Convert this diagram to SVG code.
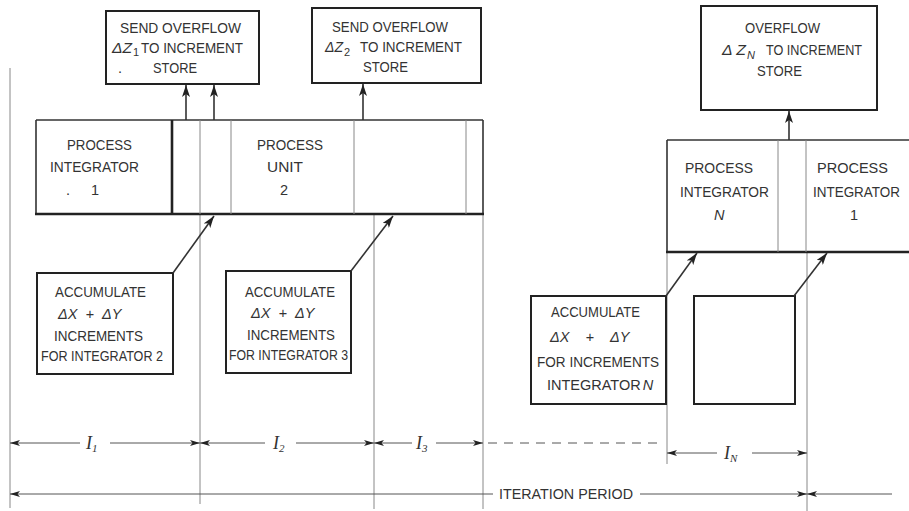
<svg xmlns="http://www.w3.org/2000/svg" width="909" height="511" viewBox="0 0 909 511">
<defs>
<style>
.bx{fill:none;stroke:#222;stroke-width:2}
.thin{fill:none;stroke:#888;stroke-width:1}
.ln{fill:none;stroke:#333;stroke-width:1.6}
.dim{fill:none;stroke:#555;stroke-width:1}
.t{font-family:"Liberation Sans",Arial,sans-serif;font-size:14.5px;fill:#333}
.it{font-style:italic}
.i{font-family:"Liberation Serif","Times New Roman",serif;font-style:italic;font-size:18px;fill:#333}
.s{font-size:11px}
</style>
<marker id="ah" markerUnits="userSpaceOnUse" markerWidth="13" markerHeight="8" refX="12" refY="4" orient="auto">
<path d="M0,0 L12,4 L0,8 L3,4 z" fill="#222"/>
</marker>
<marker id="dh" markerUnits="userSpaceOnUse" markerWidth="11" markerHeight="6" refX="10" refY="3" orient="auto">
<path d="M0,0 L10,3 L0,6 L2.5,3 z" fill="#222"/>
</marker>
</defs>

<g id="guides">
<line class="thin" x1="10" y1="68" x2="10" y2="508"/>
<line class="thin" x1="200" y1="215" x2="200" y2="504"/>
<line class="thin" x1="374" y1="215" x2="374" y2="509"/>
<line class="thin" x1="483" y1="215" x2="483" y2="509"/>
<line class="thin" x1="667" y1="252" x2="667" y2="464"/>
<line class="thin" x1="807" y1="252" x2="807" y2="511"/>
</g>

<g id="store1">
<rect class="bx" x="106" y="11" width="153" height="73"/>
<text class="t" x="120" y="33" textLength="121" lengthAdjust="spacingAndGlyphs">SEND OVERFLOW</text>
<text class="t it" x="112" y="53" textLength="20" lengthAdjust="spacingAndGlyphs">ΔZ</text>
<text class="t s" x="133" y="56">1</text>
<text class="t" x="141" y="53" textLength="102" lengthAdjust="spacingAndGlyphs">TO INCREMENT</text>
<text class="t" x="118" y="73">.</text>
<text class="t" x="153" y="73" textLength="44" lengthAdjust="spacingAndGlyphs">STORE</text>
</g>

<g id="store2">
<rect class="bx" x="312" y="8" width="169" height="75"/>
<text class="t" x="332" y="32" textLength="116" lengthAdjust="spacingAndGlyphs">SEND OVERFLOW</text>
<text class="t it" x="325" y="52" textLength="18" lengthAdjust="spacingAndGlyphs">ΔZ</text>
<text class="t s" x="344" y="56">2</text>
<text class="t" x="360" y="52" textLength="102" lengthAdjust="spacingAndGlyphs">TO INCREMENT</text>
<text class="t" x="363" y="72" textLength="45" lengthAdjust="spacingAndGlyphs">STORE</text>
</g>

<g id="storeN">
<rect class="bx" x="701" y="6" width="176" height="104"/>
<text class="t" x="745" y="33" textLength="75" lengthAdjust="spacingAndGlyphs">OVERFLOW</text>
<text class="t it" x="722" y="55" textLength="24" lengthAdjust="spacingAndGlyphs">Δ Z</text>
<text class="t s it" x="747" y="59">N</text>
<text class="t" x="766" y="55" textLength="96" lengthAdjust="spacingAndGlyphs">TO INCREMENT</text>
<text class="t" x="757" y="76" textLength="45" lengthAdjust="spacingAndGlyphs">STORE</text>
</g>

<g id="unit">
<line class="ln" x1="36" y1="120" x2="483" y2="120"/>
<line class="ln" x1="36" y1="120" x2="36" y2="214"/>
<line class="ln" x1="483" y1="120" x2="483" y2="214"/>
<line x1="35" y1="214" x2="484" y2="214" stroke="#222" stroke-width="2.6"/>
<line x1="172" y1="120" x2="172" y2="214" stroke="#222" stroke-width="2.6"/>
<line class="thin" x1="200" y1="120" x2="200" y2="214"/>
<line class="thin" x1="231" y1="120" x2="231" y2="214"/>
<line class="thin" x1="354" y1="120" x2="354" y2="214"/>
<line class="thin" x1="466" y1="120" x2="466" y2="214"/>
<text class="t" x="67" y="150" textLength="65" lengthAdjust="spacingAndGlyphs">PROCESS</text>
<text class="t" x="50" y="172" textLength="89" lengthAdjust="spacingAndGlyphs">INTEGRATOR</text>
<text class="t" x="66" y="195">.</text>
<text class="t" x="91" y="195">1</text>
<text class="t" x="257" y="150" textLength="66" lengthAdjust="spacingAndGlyphs">PROCESS</text>
<text class="t" x="267" y="172" textLength="36" lengthAdjust="spacingAndGlyphs">UNIT</text>
<text class="t" x="280" y="195">2</text>
</g>

<g id="unitN">
<line class="ln" x1="667" y1="140" x2="909" y2="140"/>
<line class="ln" x1="667" y1="140" x2="667" y2="252"/>
<line x1="666" y1="252" x2="909" y2="252" stroke="#222" stroke-width="2.6"/>
<line class="thin" x1="778" y1="140" x2="778" y2="252"/>
<line class="thin" x1="806" y1="140" x2="806" y2="252"/>
<text class="t" x="685" y="173" textLength="68" lengthAdjust="spacingAndGlyphs">PROCESS</text>
<text class="t" x="680" y="197" textLength="89" lengthAdjust="spacingAndGlyphs">INTEGRATOR</text>
<text class="t it" x="714" y="220">N</text>
<text class="t" x="817" y="173" textLength="71" lengthAdjust="spacingAndGlyphs">PROCESS</text>
<text class="t" x="813" y="197" textLength="87" lengthAdjust="spacingAndGlyphs">INTEGRATOR</text>
<text class="t" x="850" y="220">1</text>
</g>

<g id="acc2">
<rect class="bx" x="37" y="273" width="136" height="101"/>
<text class="t" x="55" y="297" textLength="91" lengthAdjust="spacingAndGlyphs">ACCUMULATE</text>
<text class="t it" x="58" y="319" xml:space="preserve">ΔX  +  ΔY</text>
<text class="t" x="54" y="341" textLength="89" lengthAdjust="spacingAndGlyphs">INCREMENTS</text>
<text class="t" x="41" y="361" textLength="122" lengthAdjust="spacingAndGlyphs">FOR INTEGRATOR 2</text>
</g>

<g id="acc3">
<rect class="bx" x="226" y="271" width="125" height="102"/>
<text class="t" x="245" y="297" textLength="90" lengthAdjust="spacingAndGlyphs">ACCUMULATE</text>
<text class="t it" x="251" y="318" xml:space="preserve">ΔX  +  ΔY</text>
<text class="t" x="247" y="340" textLength="88" lengthAdjust="spacingAndGlyphs">INCREMENTS</text>
<text class="t" x="229" y="360" textLength="119" lengthAdjust="spacingAndGlyphs">FOR INTEGRATOR 3</text>
</g>

<g id="accN">
<rect class="bx" x="531" y="296" width="135" height="108"/>
<text class="t" x="551" y="317" textLength="89" lengthAdjust="spacingAndGlyphs">ACCUMULATE</text>
<text class="t it" x="550" y="342" xml:space="preserve">ΔX    +    ΔY</text>
<text class="t" x="537" y="367" textLength="122" lengthAdjust="spacingAndGlyphs">FOR INCREMENTS</text>
<text class="t" x="547" y="390" font-size="13.5px">INTEGRATOR<tspan class="it" dx="2">N</tspan></text>
</g>

<g id="acc1">
<rect class="bx" x="694" y="296" width="101" height="108"/>
</g>

<g id="connectors">
<line class="ln" x1="186" y1="120" x2="186" y2="85" marker-end="url(#ah)"/>
<line class="ln" x1="214" y1="120" x2="214" y2="85" marker-end="url(#ah)"/>
<line class="ln" x1="363" y1="120" x2="363" y2="84" marker-end="url(#ah)"/>
<line class="ln" x1="789" y1="140" x2="789" y2="111" marker-end="url(#ah)"/>
<line class="ln" x1="173" y1="273" x2="214" y2="216" marker-end="url(#ah)"/>
<line class="ln" x1="351" y1="271" x2="393" y2="216" marker-end="url(#ah)"/>
<line class="ln" x1="666" y1="296" x2="697" y2="253" marker-end="url(#ah)"/>
<line class="ln" x1="794" y1="296" x2="827" y2="253" marker-end="url(#ah)"/>
</g>

<g id="dimensions">
<line class="dim" x1="80" y1="443" x2="10" y2="443" marker-end="url(#dh)"/>
<line class="dim" x1="110" y1="443" x2="200" y2="443" marker-end="url(#dh)"/>
<text class="i" x="86" y="449">I<tspan class="s" dy="3">1</tspan></text>
<line class="dim" x1="265" y1="443" x2="200" y2="443" marker-end="url(#dh)"/>
<line class="dim" x1="296" y1="443" x2="374" y2="443" marker-end="url(#dh)"/>
<text class="i" x="273" y="449">I<tspan class="s" dy="3">2</tspan></text>
<line class="dim" x1="412" y1="443" x2="374" y2="443" marker-end="url(#dh)"/>
<line class="dim" x1="436" y1="443" x2="483" y2="443" marker-end="url(#dh)"/>
<text class="i" x="416" y="449">I<tspan class="s" dy="3">3</tspan></text>
<line class="dim" x1="488" y1="443" x2="662" y2="443" stroke-dasharray="9,7"/>
<line class="dim" x1="717" y1="453" x2="667" y2="453" marker-end="url(#dh)"/>
<line class="dim" x1="752" y1="453" x2="807" y2="453" marker-end="url(#dh)"/>
<text class="i" x="724" y="459">I<tspan class="s" dy="3">N</tspan></text>
<line class="dim" x1="493" y1="494" x2="10" y2="494" marker-end="url(#dh)"/>
<line class="dim" x1="640" y1="494" x2="807" y2="494" marker-end="url(#dh)"/>
<line class="dim" x1="892" y1="494" x2="807" y2="494" marker-end="url(#dh)"/>
<text class="t" x="499" y="499" textLength="134" lengthAdjust="spacingAndGlyphs">ITERATION PERIOD</text>
</g>
</svg>
